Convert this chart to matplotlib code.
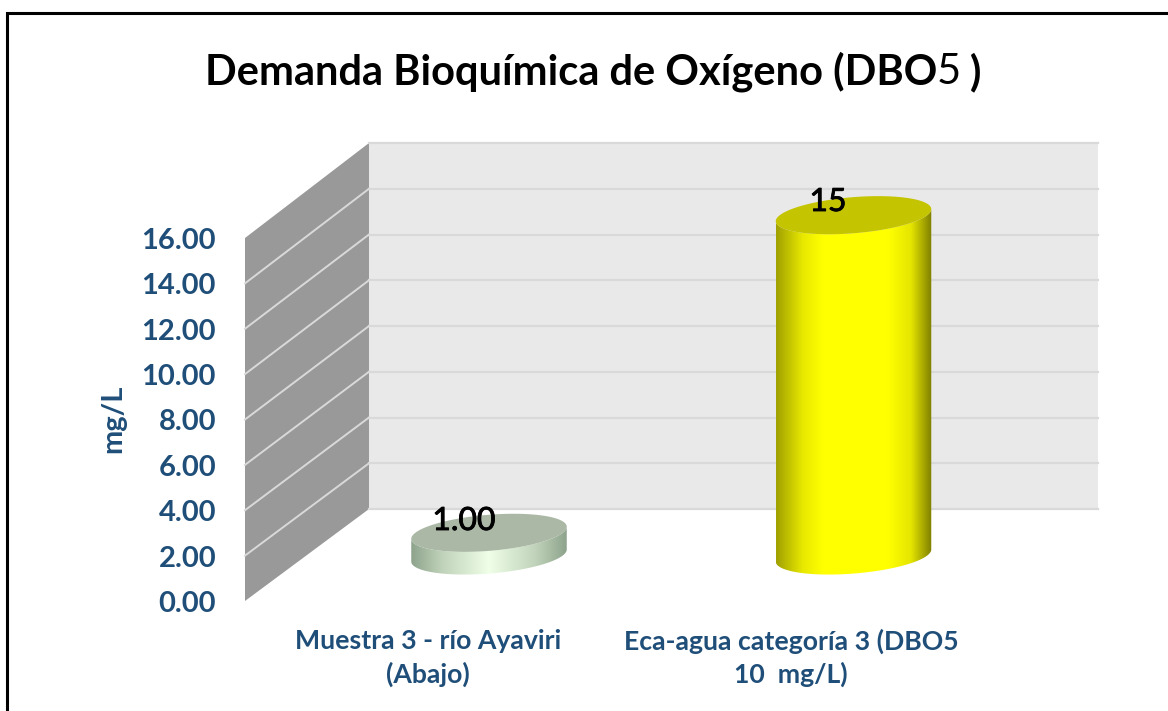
"""Demanda Bioquímica de Oxígeno: 3D style cylinder chart."""

import matplotlib

matplotlib.use("Agg")
import matplotlib.patheffects as pe
import matplotlib.pyplot as plt
import numpy as np
from matplotlib.colors import LinearSegmentedColormap
from matplotlib.patches import Polygon

TITLE_PARTS = ["Demanda Bioquímica de Oxígeno (DBO", "5", " )"]
Y_LABEL = "mg/L"
CATEGORIES = ["Muestra 3 - río Ayaviri\n(Abajo)", "Eca-agua categoría 3 (DBO5\n10  mg/L)"]
VALUES = [1.0, 15.0]
VALUE_LABELS = ["1.00", "15"]
Y_TICKS = [0, 2, 4, 6, 8, 10, 12, 14, 16]

FONT = "Lato"
BLUE = "#1f4e79"

# chart geometry in pixels
FRONT_X, BACK_X, RIGHT_X = 245, 369, 1098
FRONT_Y0, FRONT_Y16 = 601, 238
BACK_Y0, BACK_Y16 = 509, 143
BASE_Y = 555.5
CENTERS = [489, 853.5]
RADIUS_X = 78
RADIUS_Y = 18
TILT = np.deg2rad(-4.7)

SIDE_COLORS = [
    [(0, "#8ea38c"), (0.2, "#c0d3ba"), (0.5, "#f0ffe8"), (0.8, "#c0d3ba"), (1, "#8ea38c")],
    [(0, "#a0a000"), (0.17, "#e8e800"), (0.3, "#ffff00"), (0.72, "#ffff00"), (0.87, "#e4e400"), (1, "#7f7f00")],
]
TOP_COLORS = ["#aab8a5", "#c4c400"]


def front_y(value):
    return FRONT_Y0 + (FRONT_Y16 - FRONT_Y0) * value / 16


def back_y(value):
    return BACK_Y0 + (BACK_Y16 - BACK_Y0) * value / 16


def ellipse_points(cx, cy):
    t = np.linspace(0, 2 * np.pi, 361)
    x = RADIUS_X * np.cos(t) * np.cos(TILT) - RADIUS_Y * np.sin(t) * np.sin(TILT)
    y = RADIUS_X * np.cos(t) * np.sin(TILT) + RADIUS_Y * np.sin(t) * np.cos(TILT)
    return cx + x, cy + y


def draw_cylinder(ax, cx, value, side_colors, top_color):
    top_y = BASE_Y - (FRONT_Y0 - FRONT_Y16) * value / 16
    x, y = ellipse_points(cx, 0)
    left, right = int(np.argmin(x[:-1])), int(np.argmax(x[:-1]))
    order = (np.arange(right, left + 361 * (left < right)) % 360)
    arc_x, arc_y = x[order], y[order]
    outline = np.vstack(
        [
            np.column_stack([arc_x, arc_y + BASE_Y]),
            np.column_stack([arc_x[::-1], arc_y[::-1] + top_y]),
        ]
    )
    body = Polygon(outline, closed=True, facecolor="none", edgecolor="none")
    ax.add_patch(body)
    cmap = LinearSegmentedColormap.from_list("side", side_colors)
    image = ax.imshow(
        np.linspace(0, 1, 256).reshape(1, -1),
        cmap=cmap,
        aspect="auto",
        extent=[cx - RADIUS_X, cx + RADIUS_X, BASE_Y + RADIUS_Y + 5, top_y - RADIUS_Y - 5],
        zorder=3,
    )
    image.set_clip_path(body)
    tx, ty = ellipse_points(cx, top_y)
    ax.add_patch(Polygon(np.column_stack([tx, ty]), closed=True, facecolor=top_color, edgecolor="none", zorder=4))


def draw_title(fig, ax):
    renderer = fig.canvas.get_renderer()
    x = 205
    for part, weight in zip(TITLE_PARTS, ["bold", "normal", "bold"]):
        text = ax.text(x, 72, part, fontsize=30, fontweight=weight, family=FONT, va="center", ha="left", color="black", zorder=6)
        if part.startswith(" "):
            x += 10
            text.set_x(x)
            text.set_text(part.strip())
        x = ax.transData.inverted().transform(text.get_window_extent(renderer).get_points())[1, 0] - 1


def main():
    fig = plt.figure(figsize=(11.68, 7.11), dpi=100, facecolor="white")
    ax = fig.add_axes([0, 0, 1, 1])
    ax.set_xlim(0, 1168)
    ax.set_ylim(711, 0)
    ax.set_axis_off()

    # outer frame, only the left and top edges are in the picture
    ax.plot([7, 7, 1168], [711, 13, 13], color="black", lw=2.2, solid_joinstyle="miter", zorder=1)

    # walls
    ax.add_patch(
        Polygon(
            [(BACK_X, back_y(0)), (RIGHT_X, back_y(0)), (RIGHT_X, back_y(16)), (BACK_X, back_y(16))],
            facecolor="#e9e9e9",
            edgecolor="none",
            zorder=1,
        )
    )
    ax.add_patch(
        Polygon(
            [(FRONT_X, front_y(0)), (BACK_X, back_y(0)), (BACK_X, back_y(16)), (FRONT_X, front_y(16))],
            facecolor="#999999",
            edgecolor="none",
            zorder=1,
        )
    )
    for tick in Y_TICKS:
        ax.plot([BACK_X, RIGHT_X], [back_y(tick)] * 2, color="#d9d9d9", lw=1.6, zorder=2)
        if tick not in (0, 16):
            ax.plot([FRONT_X, BACK_X], [front_y(tick), back_y(tick)], color="#d9d9d9", lw=1.4, zorder=2)
        ax.text(216, front_y(tick) + 3, f"{tick:.2f}", ha="right", va="center", fontsize=21, fontweight="bold", family=FONT, color=BLUE)

    # the two cylinders
    for cx, value, side, top in zip(CENTERS, VALUES, SIDE_COLORS, TOP_COLORS):
        draw_cylinder(ax, cx, value, side, top)

    ax.set_xlim(0, 1168)
    ax.set_ylim(711, 0)

    for label, x, y in zip(VALUE_LABELS, [464, 828], [521, 202]):
        ax.text(
            x, y, label, ha="center", va="center", fontsize=23, family=FONT, color="black", zorder=6,
            path_effects=[pe.withStroke(linewidth=0.6, foreground="black")],
        )

    for label, x in zip(CATEGORIES, [428, 791]):
        ax.text(x, 658, label, ha="center", va="center", fontsize=19.2, fontweight="bold", family=FONT, color=BLUE, linespacing=1.38)

    ax.text(113, 419, Y_LABEL, rotation=90, ha="center", va="center", fontsize=21, fontweight="bold", family=FONT, color=BLUE)

    fig.canvas.draw()
    draw_title(fig, ax)

    fig.savefig("out.png", dpi=100)


if __name__ == "__main__":
    main()
